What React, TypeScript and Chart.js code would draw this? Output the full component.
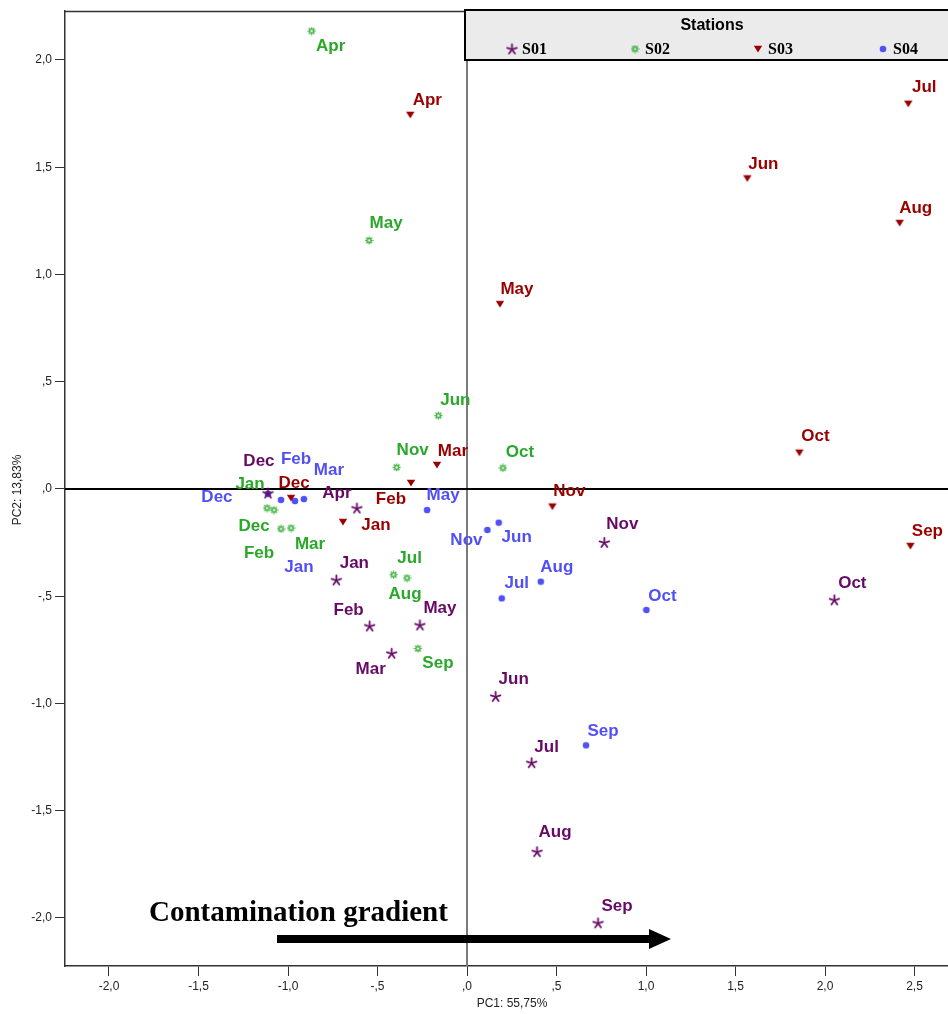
import React, { useEffect, useRef } from "react";
import { Chart, registerables } from "chart.js";

Chart.register(...registerables);

// ---------------- data ----------------
const months = ["Jan", "Feb", "Mar", "Apr", "May", "Jun", "Jul", "Aug", "Sep", "Oct", "Nov", "Dec"];

const s01X = [-0.730, -0.544, -0.421, -0.615, -0.263, 0.160, 0.361, 0.391, 0.732, 2.052, 0.767, -1.112];
const s01Y = [-0.424, -0.639, -0.766, -0.089, -0.634, -0.967, -1.276, -1.691, -2.023, -0.517, -0.249, -0.019];

const s02X = [-1.117, -1.039, -0.983, -0.868, -0.547, -0.160, -0.410, -0.335, -0.274, 0.201, -0.393, -1.078];
const s02Y = [-0.089, -0.186, -0.182, 2.135, 1.159, 0.342, -0.400, -0.415, -0.744, 0.098, 0.101, -0.098];

const s03X = [-0.693, -0.313, -0.168, -0.317, 0.184, 1.566, 2.465, 2.417, 2.477, 1.857, 0.477, -0.983];
const s03Y = [-0.154, 0.028, 0.112, 1.744, 0.862, 1.448, 1.796, 1.240, -0.266, 0.169, -0.082, -0.042];

const s04X = [-0.961, -1.039, -0.911, null, -0.223, 0.177, 0.194, 0.412, 0.665, 1.002, 0.114, -1.112];
const s04Y = [-0.056, -0.051, -0.047, null, -0.098, -0.157, -0.510, -0.432, -1.195, -0.564, -0.191, -0.023];

const stationNames = ["S01", "S02", "S03", "S04"];

const xTicks = [-2, -1.5, -1, -0.5, 0, 0.5, 1, 1.5, 2, 2.5];
const yTicks = [-2, -1.5, -1, -0.5, 0, 0.5, 1, 1.5, 2];

const xTitle = "PC1: 55,75%";
const yTitle = "PC2: 13,83%";
const legendTitle = "Stations";
const gradientText = "Contamination gradient";

// ---------------- styling ----------------
const X_MIN = -2.2458;
const X_MAX = 2.687;
const Y_MIN = -2.2238;
const Y_MAX = 2.2284;

const colors = ["#660a66", "#2aa82a", "#990000", "#5050f5"];

// label placement (offset of label centre from marker, px)
const s01Off = [[18, -17], [-21, -16], [-21, 16], [-20, -15], [20, -17], [18, -17], [15, -15], [18, -19], [19, -17], [18, -17], [18, -18], [-9, -32]];
const s02Off = [[-17, -24], [-22, 24], [19, 16], [19, 15], [17, -17], [17, -15], [16, -16], [-2, 16], [20, 15], [17, -16], [16, -17], [-20, 16]];
const s03Off = [[33, 3], [-20, 16], [16, -14], [17, -15], [17, -15], [16, -14], [16, -16], [16, -15], [17, -15], [16, -16], [17, -15], [3, -15]];
const s04Off = [[4, 66], [15, -41], [25, -29], null, [16, -15], [18, 15], [15, -15], [16, -14], [17, -14], [16, -14], [-21, 10], [-51, 3]];

const SANS = "'Liberation Sans', Arial, sans-serif";
const SERIF = "'Liberation Serif', 'Times New Roman', serif";

const CANVAS_W = 953;
const CANVAS_H = 1014;

function fmtTick(v: number): string {
  const s = v.toFixed(1).replace(".", ",");
  return s.replace(/^(-?)0,/, "$1,");
}

function makeCanvas(size: number, draw: (c: CanvasRenderingContext2D, s: number) => void) {
  const cv = document.createElement("canvas");
  cv.width = size;
  cv.height = size;
  const c = cv.getContext("2d")!;
  draw(c, size);
  return cv;
}

function makeMarkers() {
  const star = makeCanvas(13, (c, s) => {
    c.strokeStyle = colors[0];
    c.lineWidth = 1.8;
    c.lineCap = "round";
    const cx = s / 2, cy = s / 2 + 0.5;
    for (let k = 0; k < 5; k++) {
      const a = (-90 + k * 72) * Math.PI / 180;
      c.beginPath();
      c.moveTo(cx, cy);
      c.lineTo(cx + Math.cos(a) * 5, cy + Math.sin(a) * 5);
      c.stroke();
    }
  });
  const flower = makeCanvas(9, (c, s) => {
    c.strokeStyle = colors[1];
    c.fillStyle = colors[1];
    c.lineWidth = 1.2;
    const cx = s / 2, cy = s / 2;
    c.beginPath();
    c.arc(cx, cy, 1.9, 0, Math.PI * 2);
    c.stroke();
    for (let k = 0; k < 8; k++) {
      const a = (k * 45) * Math.PI / 180;
      c.beginPath();
      c.arc(cx + Math.cos(a) * 3.3, cy + Math.sin(a) * 3.3, 0.8, 0, Math.PI * 2);
      c.fill();
    }
  });
  const tri = makeCanvas(10, (c, s) => {
    c.fillStyle = colors[2];
    c.beginPath();
    c.moveTo(0.8, 1.8);
    c.lineTo(s - 0.8, 1.8);
    c.lineTo(s / 2, 8.6);
    c.closePath();
    c.fill();
  });
  const dot = makeCanvas(8, (c, s) => {
    c.fillStyle = colors[3];
    c.beginPath();
    c.arc(s / 2, s / 2, 3.3, 0, Math.PI * 2);
    c.fill();
  });
  return [star, flower, tri, dot];
}

function buildData(xs: (number | null)[], ys: (number | null)[]) {
  const out: { x: number; y: number; m: number }[] = [];
  xs.forEach((xv, i) => {
    const yv = ys[i];
    if (xv !== null && yv !== null) out.push({ x: xv, y: yv, m: i });
  });
  return out;
}

export default function App() {
  const ref = useRef<HTMLCanvasElement | null>(null);

  useEffect(() => {
    if (!ref.current) return;
    const markers = makeMarkers();
    const offsets = [s01Off, s02Off, s03Off, s04Off];
    const series = [
      buildData(s01X, s01Y),
      buildData(s02X, s02Y),
      buildData(s03X, s03Y),
      buildData(s04X, s04Y),
    ];

    const overlay = {
      id: "overlay",
      beforeDatasetsDraw(chart: any) {
        const { ctx, chartArea: a, scales } = chart;
        const x0 = scales.x.getPixelForValue(0);
        const y0 = scales.y.getPixelForValue(0);
        ctx.save();
        ctx.strokeStyle = "#333";
        ctx.lineWidth = 1.5;
        ctx.beginPath();
        ctx.moveTo(a.left, a.top + 0.5);
        ctx.lineTo(a.right, a.top + 0.5);
        ctx.stroke();
        ctx.strokeStyle = "#7a7a7a";
        ctx.lineWidth = 2;
        ctx.beginPath();
        ctx.moveTo(x0, a.top);
        ctx.lineTo(x0, a.bottom);
        ctx.stroke();
        ctx.strokeStyle = "#000";
        ctx.lineWidth = 2;
        ctx.beginPath();
        ctx.moveTo(a.left, y0);
        ctx.lineTo(a.right, y0);
        ctx.stroke();
        ctx.restore();
      },
      afterDatasetsDraw(chart: any) {
        const { ctx } = chart;
        ctx.save();
        ctx.font = `bold 17px ${SANS}`;
        ctx.textAlign = "center";
        ctx.textBaseline = "middle";
        chart.data.datasets.forEach((ds: any, di: number) => {
          const meta = chart.getDatasetMeta(di);
          ctx.fillStyle = colors[di];
          ds.data.forEach((p: any, j: number) => {
            const el = meta.data[j];
            const off = offsets[di][p.m];
            if (!el || !off) return;
            ctx.fillText(months[p.m], el.x + off[0], el.y + off[1]);
          });
        });
        ctx.restore();
      },
      afterDraw(chart: any) {
        const { ctx } = chart;
        ctx.save();
        // axis titles
        ctx.fillStyle = "#222";
        ctx.font = `12px ${SANS}`;
        ctx.textAlign = "center";
        ctx.textBaseline = "middle";
        ctx.fillText(xTitle, 512, 1004);
        ctx.save();
        ctx.translate(18, 490);
        ctx.rotate(-Math.PI / 2);
        ctx.fillText(yTitle, 0, 0);
        ctx.restore();

        // legend box
        const lx = 465, ly = 10, lw = 500, lh = 50;
        ctx.fillStyle = "#ebebeb";
        ctx.fillRect(lx, ly, lw, lh);
        ctx.strokeStyle = "#000";
        ctx.lineWidth = 2;
        ctx.strokeRect(lx, ly, lw, lh);
        ctx.fillStyle = "#000";
        ctx.font = `bold 16px ${SANS}`;
        ctx.textAlign = "center";
        ctx.fillText(legendTitle, 712, 26);
        const mx = [512, 635, 758, 883];
        ctx.font = `bold 16px ${SERIF}`;
        ctx.textAlign = "left";
        stationNames.forEach((nm, i) => {
          const m = markers[i];
          ctx.drawImage(m, mx[i] - m.width / 2, 49 - m.height / 2);
          ctx.fillStyle = "#000";
          ctx.fillText(nm, mx[i] + 10, 50);
        });

        // contamination gradient annotation
        ctx.fillStyle = "#000";
        ctx.font = `bold 29px ${SERIF}`;
        ctx.textAlign = "left";
        ctx.textBaseline = "alphabetic";
        ctx.fillText(gradientText, 149, 921);
        ctx.fillRect(277, 935, 374, 8);
        ctx.beginPath();
        ctx.moveTo(649, 929);
        ctx.lineTo(671, 939);
        ctx.lineTo(649, 949);
        ctx.closePath();
        ctx.fill();
        ctx.restore();
      },
    };

    const chart = new Chart(ref.current, {
      type: "scatter",
      data: {
        datasets: series.map((d, i) => ({
          label: stationNames[i],
          data: d,
          pointStyle: markers[i] as any,
          pointRadius: 4,
          pointHoverRadius: 4,
          backgroundColor: colors[i],
          borderColor: colors[i],
        })),
      },
      options: {
        responsive: false,
        animation: false,
        events: [],
        layout: { padding: { top: 11, left: 0, right: 0, bottom: 0 } },
        plugins: {
          legend: { display: false },
          tooltip: { enabled: false },
          title: { display: false },
        },
        scales: {
          x: {
            type: "linear",
            min: X_MIN,
            max: X_MAX,
            afterBuildTicks: (s: any) => {
              s.ticks = xTicks.map((v) => ({ value: v }));
            },
            afterFit: (s: any) => {
              s.height = 48;
            },
            ticks: {
              callback: (v: any) => fmtTick(Number(v)),
              font: { family: SANS, size: 12 },
              color: "#222",
              padding: 3,
              maxRotation: 0,
              autoSkip: false,
            },
            grid: { drawOnChartArea: false, drawTicks: true, tickLength: 10, color: "#333" },
            border: { display: true, color: "#333", width: 1.5 },
          },
          y: {
            type: "linear",
            min: Y_MIN,
            max: Y_MAX,
            afterBuildTicks: (s: any) => {
              s.ticks = yTicks.map((v) => ({ value: v }));
            },
            afterFit: (s: any) => {
              s.width = 65;
            },
            ticks: {
              callback: (v: any) => fmtTick(Number(v)),
              font: { family: SANS, size: 12 },
              color: "#222",
              padding: 3,
              autoSkip: false,
            },
            grid: { drawOnChartArea: false, drawTicks: true, tickLength: 10, color: "#333" },
            border: { display: true, color: "#333", width: 1.5 },
          },
        },
      },
      plugins: [overlay],
    });
    return () => chart.destroy();
  }, []);

  return (
    <div style={{ position: "absolute", left: 0, top: 0, width: 948, height: 1014, background: "#fff", overflow: "hidden" }}>
      <canvas ref={ref} width={CANVAS_W} height={CANVAS_H} style={{ display: "block" }} />
    </div>
  );
}
